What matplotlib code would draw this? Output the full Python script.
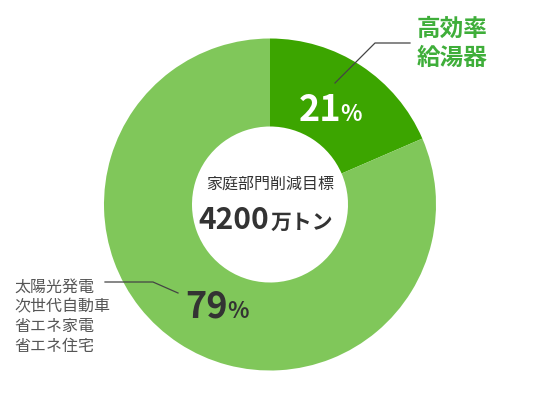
import matplotlib
matplotlib.use('Agg')
import matplotlib.pyplot as plt

plt.rcParams['font.family'] = ['Noto Sans CJK JP', 'DejaVu Sans']

# データ
shares = [18.5, 81.5]            # 図上の扇形の大きさ
pct_labels = ['21', '79']
colors = ['#3ca500', '#80c75a']
top_label = ['高効率', '給湯器']
left_label = ['太陽光発電', '次世代自動車', '省エネ家電', '省エネ住宅']
center_title = '家庭部門削減目標'
center_value = '4200'
center_unit = '万トン'

W, H = 539, 412
fig = plt.figure(figsize=(W / 100, H / 100), dpi=100)
ax = fig.add_axes([0, 0, 1, 1])

cx, cy = 270, H - 204.5
r_out, r_in = 166, 78
ax.pie(shares, colors=colors, startangle=90, counterclock=False,
       center=(cx, cy), radius=r_out,
       wedgeprops=dict(width=r_out - r_in, linewidth=0))
ax.set_xlim(0, W)
ax.set_ylim(0, H)
ax.set_aspect('equal')
ax.axis('off')

dark = '#333333'

# 中央
ax.text(cx + 0.5, H - 184.5, center_title, ha='center', va='center',
        fontsize=11.5, color=dark)
ax.text(269, H - 229, center_value, ha='right', va='baseline',
        fontsize=21.5, fontweight='bold', color=dark)
ax.text(271, H - 229, center_unit, ha='left', va='baseline',
        fontsize=15, fontweight='bold', color=dark)

# 21%
ax.text(341, H - 121, pct_labels[0], ha='right', va='baseline',
        fontsize=26, fontweight='bold', color='white')
ax.text(340, H - 121, '%', ha='left', va='baseline',
        fontsize=16, fontweight='bold', color='white')

# 79%
ax.text(228, H - 318, pct_labels[1], ha='right', va='baseline',
        fontsize=26, fontweight='bold', color=dark)
ax.text(227, H - 318, '%', ha='left', va='baseline',
        fontsize=16, fontweight='bold', color=dark)

# 上ラベル
for i, s in enumerate(top_label):
    ax.text(417, H - (28.5 + 29 * i), s, ha='left', va='center',
            fontsize=17, fontweight='bold', color='#3fae3a')
ax.plot([335, 375, 410], [H - 83, H - 43, H - 43], color='#444444', lw=0.9)

# 左ラベル
for i, s in enumerate(left_label):
    ax.text(14, H - (287.5 + 19.5 * i), s, ha='left', va='center',
            fontsize=11.5, color='#555555')
ax.plot([105, 153, 178], [H - 282, H - 282, H - 293], color='#444444', lw=0.9)

fig.savefig('out.png', dpi=100)
